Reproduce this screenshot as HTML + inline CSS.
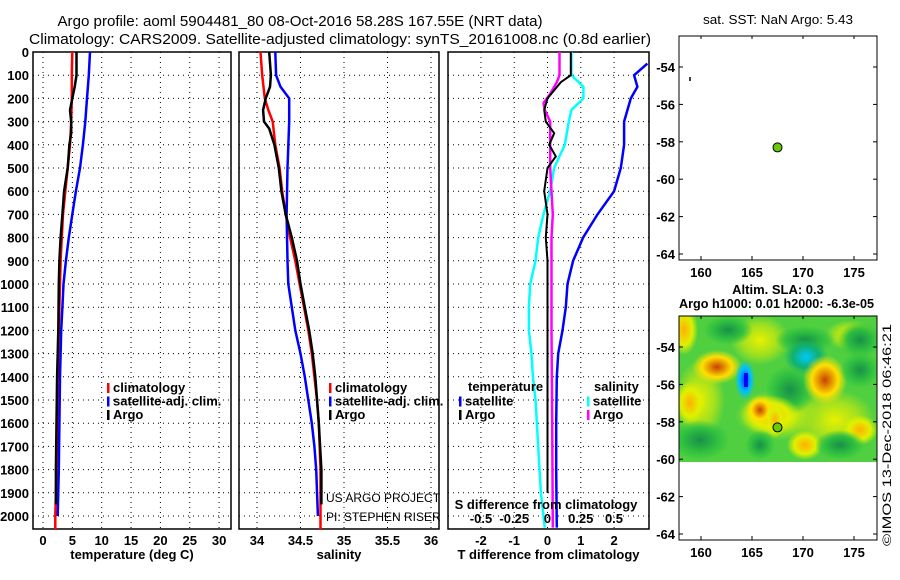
<!DOCTYPE html>
<html><head><meta charset="utf-8"><style>
body{margin:0;background:#fff}
svg{display:block;font-family:"Liberation Sans",sans-serif}
.t{font-weight:bold;font-size:13px}
</style></head><body>
<svg id="c" width="900" height="580" viewBox="0 0 900 580"></svg>
<script>
// ---- data ----
const tClimDepth=[0,100,200,300,400,500,600,700,800,900,1000,1200,1400,1600,1800,2000,2060];
const tClimVal=[5,4.9,4.9,4.8,4.6,4.2,3.8,3.4,3.2,3.0,2.9,2.7,2.5,2.4,2.3,2.1,2.1];
const tSatDepth=[0,100,200,300,400,500,600,700,800,900,1000,1100,1200,1400,1600,1800,2000];
const tSatVal=[8.0,7.8,7.5,7.2,6.8,6.3,5.6,5.0,4.4,3.9,3.5,3.3,3.1,2.9,2.8,2.7,2.5];
const tArgoDepth=[0,100,150,200,250,300,350,400,500,600,700,800,900,1000,1200,1400,1600,1800,1950];
const tArgoVal=[5.7,5.7,5.4,5.0,4.6,4.8,4.8,4.5,4.2,3.6,3.3,3.0,2.8,2.7,2.6,2.4,2.3,2.2,2.2];
const sClimDepth=[0,100,200,250,300,400,500,600,700,800,900,1000,1100,1200,1300,1400,1500,1600,1800,2060];
const sClimVal=[34.04,34.06,34.09,34.13,34.18,34.21,34.26,34.29,34.33,34.38,34.44,34.49,34.54,34.59,34.63,34.66,34.69,34.71,34.73,34.73];
const sSatDepth=[0,100,150,200,300,500,700,900,1000,1100,1200,1300,1400,1500,1600,1700,1800,2000];
const sSatVal=[34.21,34.22,34.27,34.37,34.37,34.35,34.34,34.35,34.36,34.40,34.44,34.50,34.55,34.59,34.63,34.66,34.68,34.70];
const sArgoDepth=[0,100,150,200,250,300,330,400,500,600,700,800,900,1000,1100,1200,1300,1400,1600,1800,1950];
const sArgoVal=[34.14,34.16,34.15,34.10,34.07,34.08,34.14,34.20,34.25,34.28,34.33,34.40,34.46,34.50,34.55,34.60,34.64,34.67,34.71,34.74,34.74];
const dTSatDepth=[50,100,150,200,300,400,500,600,700,800,900,1000,1100,1200,1300,1400,1600,1800,2050];
const dTSatVal=[3.0,2.6,2.7,2.5,2.3,2.3,2.2,2.0,1.5,1.07,0.77,0.6,0.55,0.45,0.32,0.28,0.26,0.26,0.28];
const dTArgoDepth=[0,100,130,200,250,300,350,400,450,500,600,700,800,900,1000,1200,1600,1900];
const dTArgoVal=[0.7,0.7,0.4,0.0,-0.1,-0.05,0.2,0.05,0.25,0.0,-0.1,0.0,-0.05,0,0,0,0,0];
const dSSatDepth=[0,100,150,200,250,300,400,500,600,700,800,900,1000,1100,1200,1300,1400,1500,1600,1700,1800,1900,2050];
const dSSatVal=[0.18,0.18,0.27,0.27,0.18,0.16,0.13,0.05,0.02,-0.03,-0.07,-0.09,-0.13,-0.14,-0.14,-0.12,-0.11,-0.09,-0.08,-0.07,-0.06,-0.05,-0.02];
const dSArgoDepth=[0,100,130,180,220,250,300,400,500,600,700,800,1000,1200,1600,2050];
const dSArgoVal=[0.09,0.09,0.07,0.02,-0.03,-0.02,0.02,0.02,0.02,0.03,0.04,0.03,0.03,0.03,0.035,0.04];
const depthTicks=[0,100,200,300,400,500,600,700,800,900,1000,1100,1200,1300,1400,1500,1600,1700,1800,1900,2000];
const tTicks=[0,5,10,15,20,25,30];
const sTicks=[34,34.5,35,35.5,36];
const dTTicks=[-2,-1,0,1,2];
const dSTickLabels=["-0.5","-0.25","0","0.25","0.5"];
const dSTicks=[-0.5,-0.25,0,0.25,0.5];
const lonTicks=[160,165,170,175];
const latTicks=[-54,-56,-58,-60,-62,-64];
const argoLon=[167.5], argoLat=[-58.3];

const svg=document.getElementById('c');
const NS='http://www.w3.org/2000/svg';
function el(tag,attrs,parent){const e=document.createElementNS(NS,tag);for(const k in attrs)e.setAttribute(k,attrs[k]);(parent||svg).appendChild(e);return e;}
function txt(x,y,s,attrs,parent){const e=el('text',Object.assign({x:x,y:y},attrs||{}),parent);e.textContent=s;return e;}

const TOP=52, BOT=529;
const yD=d=>TOP+d*0.232;
function panel(name,x0,x1,xs,xticks,labels,xlabel,gridX){
  const g=el('g',{});
  
  
  depthTicks.forEach(d=>{if(d>0)el('line',{x1:x0,x2:x1,y1:yD(d),y2:yD(d),stroke:'#000','stroke-dasharray':'1,4','stroke-width':1},g);});
  (gridX||xticks).forEach(v=>el('line',{x1:xs(v),x2:xs(v),y1:TOP,y2:BOT,stroke:'#000','stroke-dasharray':'1,4','stroke-width':1},g));
  el('rect',{x:x0,y:TOP,width:x1-x0,height:BOT-TOP,fill:'none',stroke:'#000','stroke-width':1.5},g);
  xticks.forEach((v,i)=>{const t=txt(xs(v),545,labels[i],{class:'t','text-anchor':'middle'},g);});
  const l=txt((x0+x1)/2,559,xlabel,{class:'t','text-anchor':'middle'},g);
  
  return g;
}
function line(g,dep,val,xs,color,w,name){
  const p=el('polyline',{points:dep.map((d,i)=>xs(val[i]).toFixed(1)+','+yD(d).toFixed(1)).join(' '),fill:'none',stroke:color,'stroke-width':w},g);
  
}
function legend(g,x,y,items){
  items.forEach((it,i)=>{el('rect',{x:x,y:y+i*13.5-9,width:2.5,height:10,fill:it[0]},g);
    const t=txt(x+6,y+i*13.5,it[1],{class:'t','font-size':'12.5'},g);});
}
depthTicks.forEach(d=>{const t=txt(29,yD(d)+5,String(d),{class:'t','text-anchor':'end'});});

const xT=v=>43+v*5.87;
const g1=panel('temperature-panel',33,231,xT,tTicks,tTicks.map(String),'temperature (deg C)');
line(g1,tClimDepth,tClimVal,xT,'#f00',2.5,'climatology-temp-line');
line(g1,tSatDepth,tSatVal,xT,'#00f',2.5,'satellite-temp-line');
line(g1,tArgoDepth,tArgoVal,xT,'#000',2.5,'argo-temp-line');
legend(g1,107,392,[['#f00','climatology'],['#00f','satellite-adj. clim.'],['#000','Argo']]);

const xS=v=>257+(v-34)*87;
const g2=panel('salinity-panel',239,439,xS,sTicks,sTicks.map(String),'salinity');
line(g2,sClimDepth,sClimVal,xS,'#f00',2.5,'climatology-salinity-line');
line(g2,sSatDepth,sSatVal,xS,'#00f',2.5,'satellite-salinity-line');
line(g2,sArgoDepth,sArgoVal,xS,'#000',2.5,'argo-salinity-line');
legend(g2,329,392,[['#f00','climatology'],['#00f','satellite-adj. clim.'],['#000','Argo']]);
txt(326,502,'US ARGO PROJECT',{'font-size':'12'},g2);
txt(326,521,'PI: STEPHEN RISER',{'font-size':'12'},g2);

const xDT=v=>547.5+v*33.3;
const xDS=v=>547.5+v*133;
const g3=panel('difference-panel',448,649,xDT,dTTicks,dTTicks.map(String),'T difference from climatology');
line(g3,dTSatDepth,dTSatVal,xDT,'#00f',2.5,'satellite-temp-diff-line');
line(g3,dSSatDepth,dSSatVal,xDS,'#0ff',2.5,'satellite-salinity-diff-line');
line(g3,dSArgoDepth,dSArgoVal,xDS,'#f0f',2.5,'argo-salinity-diff-line');
line(g3,dTArgoDepth,dTArgoVal,xDT,'#000',2,'argo-temp-diff-line');
txt(468,391,'temperature',{class:'t','font-size':'12.5'},g3);
legend(g3,459,405.5,[['#00f','satellite'],['#000','Argo']]);
txt(594,391,'salinity',{class:'t','font-size':'12.5'},g3);
legend(g3,587,405.5,[['#0ff','satellite'],['#f0f','Argo']]);
txt(546,509,'S difference from climatology',{class:'t','text-anchor':'middle','font-size':'12.5'},g3);
dSTicks.forEach((v,i)=>txt(xDS(v),523,dSTickLabels[i],{class:'t','text-anchor':'middle','font-size':'12.5'},g3));

const t1=txt(300,26,'Argo profile: aoml 5904481_80 08-Oct-2016 58.28S 167.55E (NRT data)',{'font-size':'15','text-anchor':'middle',textLength:485,lengthAdjust:'spacingAndGlyphs'});

const t2=txt(340,44,'Climatology: CARS2009. Satellite-adjusted climatology: synTS_20161008.nc (0.8d earlier)',{'font-size':'15','text-anchor':'middle',textLength:622,lengthAdjust:'spacingAndGlyphs'});


const xLon=v=>701+(v-160)*10.2;
function mapPanel(name,top,lat54,bottom){
  const g=el('g',{});
  
  const yLat=v=>lat54+(-54-v)*18.7;
  return {g,yLat,draw:()=>{
    el('rect',{x:679,y:top,width:198,height:bottom-top,fill:'none',stroke:'#000','stroke-width':1},g);
    lonTicks.forEach(v=>{el('line',{x1:xLon(v),x2:xLon(v),y1:bottom,y2:bottom-4,stroke:'#000'},g);el('line',{x1:xLon(v),x2:xLon(v),y1:top,y2:top+3,stroke:'#000'},g);
      txt(xLon(v),bottom+17,String(v),{class:'t','text-anchor':'middle','font-size':'12.5'},g);});
    latTicks.forEach(v=>{el('line',{x1:679,x2:683,y1:yLat(v),y2:yLat(v),stroke:'#000'},g);el('line',{x1:877,x2:873,y1:yLat(v),y2:yLat(v),stroke:'#000'},g);
      txt(675,yLat(v)+5,String(v),{class:'t','text-anchor':'end','font-size':'12.5'},g);});
    el('circle',{cx:xLon(argoLon[0]),cy:yLat(argoLat[0]),r:4.5,fill:'#6c0',stroke:'#000','stroke-width':1},g);
  }};
}
const m1=mapPanel('sst-map',36,67,260);
m1.draw();
el('line',{x1:690,y1:77,x2:690,y2:81,stroke:'#000','stroke-width':1.5},m1.g);
txt(778,24,'sat. SST: NaN Argo: 5.43',{'font-size':'13','text-anchor':'middle',textLength:150,lengthAdjust:'spacingAndGlyphs'},m1.g);

const m2=mapPanel('sla-map',316,347,540);
const defs=el('defs',{});
const cp=el('clipPath',{id:'hm'},defs);el('rect',{x:679,y:316,width:198,height:146},cp);
[['gO','#c84000','#ffe000'],['gB','#0040ff','#00c0ff'],['gC','#00c8ff','#10b070'],['gD','#189048','#30c040'],['gY','#ffb000','#e0f000'],['gL','#e8f000','#a0e020']].forEach(a=>{
  const rg=el('radialGradient',{id:a[0]},defs);el('stop',{offset:'0','stop-color':a[1]},rg);el('stop',{offset:'0.6','stop-color':a[2]},rg);el('stop',{offset:'1','stop-color':a[2],'stop-opacity':0},rg);});
const hm=el('g',{'clip-path':'url(#hm)'},m2.g);
el('rect',{x:679,y:316,width:198,height:146,fill:'#50d040'},hm);
const blobs=[['gL',760,340,30,25],['gL',835,420,40,30],['gL',700,400,25,40],['gL',780,415,45,25],['gL',850,335,25,15],['gY',684,330,14,25],['gY',690,403,15,22],['gO',717,367,25,17],['gD',728,330,25,15],['gB',745,380,10,20],['gD',805,340,30,14],['gC',806,357,22,18],['gD',790,390,25,25],['gO',825,380,22,25],['gY',770,415,30,20],['gO',760,410,14,15],['gY',775,420,10,18],['gD',860,370,20,18],['gD',860,340,22,18],['gY',860,430,18,15],['gD',700,440,30,20],['gY',805,445,18,15],['gD',760,445,15,15],['gD',840,445,25,15]];
blobs.forEach(b=>el('ellipse',{cx:b[1],cy:b[2],rx:b[3],ry:b[4],fill:'url(#'+b[0]+')'},hm));
el('rect',{x:744,y:373,width:4,height:14,fill:'#00f'},hm);
m2.draw();
txt(778,294,'Altim. SLA: 0.3',{class:'t','font-size':'12.5','text-anchor':'middle'},m2.g);
txt(679,308,'Argo h1000: 0.01 h2000: -6.3e-05',{class:'t','font-size':'12.5',textLength:195,lengthAdjust:'spacingAndGlyphs'},m2.g);
const ts=txt(0,0,'©IMOS 13-Dec-2018 06:46:21',{'font-size':'12',transform:'translate(891,546) rotate(-90)',textLength:222,lengthAdjust:'spacingAndGlyphs'});

</script>
</body></html>
